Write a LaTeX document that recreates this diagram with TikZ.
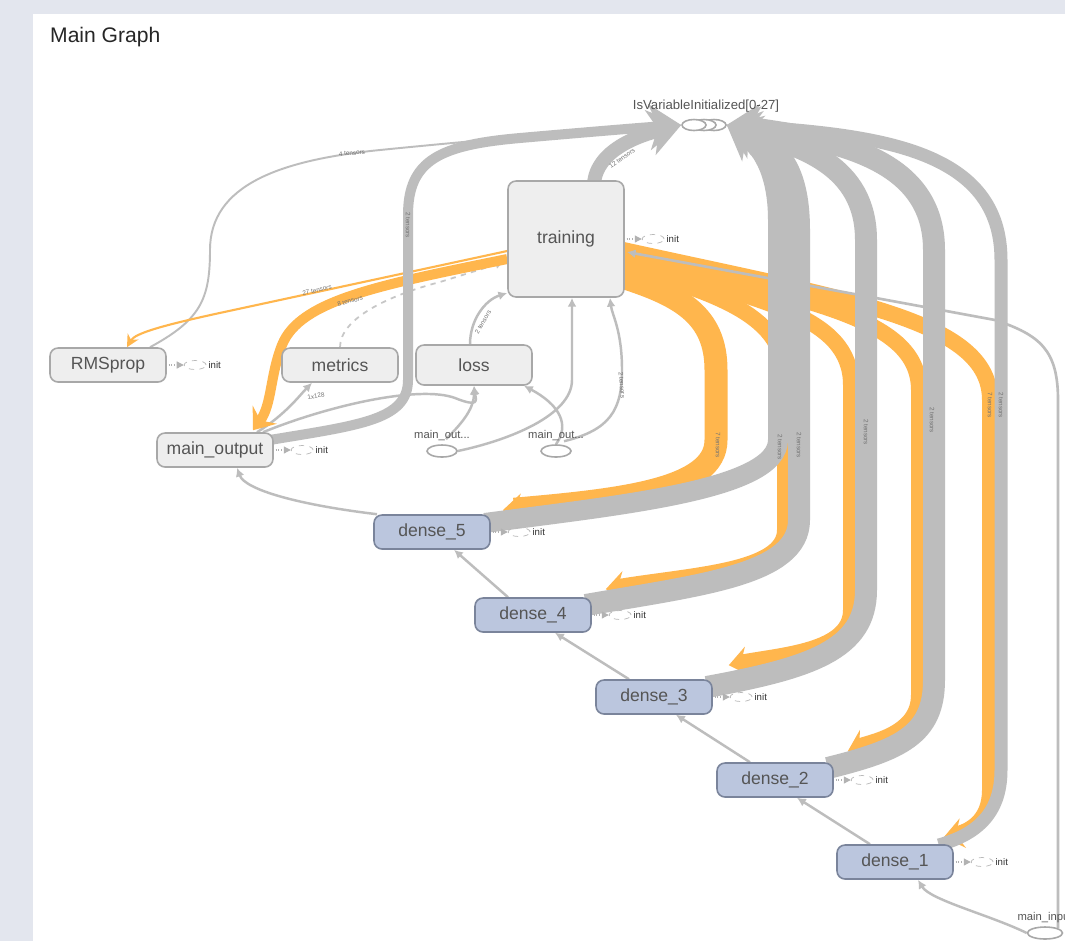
\documentclass[tikz,border=0pt]{standalone}
\usepackage{fontspec}
\setmainfont{Liberation Sans}
\usetikzlibrary{arrows.meta,shapes.geometric,positioning}
\definecolor{pagebg}{RGB}{227,230,238}
\definecolor{beltgray}{RGB}{189,189,189}
\definecolor{beltorange}{RGB}{255,182,77}
\definecolor{opfill}{RGB}{238,238,238}
\definecolor{opline}{RGB}{168,168,168}
\definecolor{densefill}{RGB}{187,198,222}
\definecolor{denseline}{RGB}{122,132,155}
\definecolor{optext}{RGB}{85,85,85}
\pgfdeclarelayer{paper}
\pgfdeclarelayer{edges}
\pgfsetlayers{paper,edges,main}
\tikzset{
  opbox/.style={draw=opline,fill=opfill,line width=0.9pt,rounded corners=0.16cm,
    minimum width=2.32cm,minimum height=0.68cm,text=optext,font=\fontsize{10}{12}\selectfont},
  densebox/.style={opbox,draw=denseline,fill=densefill},
  ioval/.style={ellipse,draw=opline,fill=white,line width=0.9pt,inner sep=0pt},
  initoval/.style={ellipse,draw=gray!55,dashed,line width=0.4pt,minimum width=0.44cm,
    minimum height=0.18cm,inner sep=0pt},
  inittext/.style={font=\fontsize{5.5}{6}\selectfont,text=black!80,inner sep=1pt},
  initlink/.style={draw=gray!60,densely dotted,line width=0.6pt,shorten <=1pt,
    -{Triangle[length=4pt,width=4pt]}},
  graybelt/.style={draw=beltgray,-{Stealth[length=18pt,width=26pt,inset=5pt]}},
  orangebelt/.style={draw=beltorange,-{Stealth[length=11pt,width=17pt,inset=4pt]}},
  thinlink/.style={draw=beltgray,line width=1.4pt,-{Latex[length=5pt,width=5pt]}},
  beltlabel/.style={font=\fontsize{3.6}{4}\selectfont,text=black!55,inner sep=0pt},
  smalltext/.style={font=\fontsize{6.4}{7}\selectfont,text=optext,inner sep=1pt},
}

\begin{document}
\begin{tikzpicture}[x=0.02cm,y=-0.02cm]
\useasboundingbox (0,0) rectangle (1065,941);
\begin{pgfonlayer}{paper}
\fill[pagebg] (0,0) rectangle (1065,941);
\fill[white] (33,14) rectangle (1065,941);
\end{pgfonlayer}
\node[anchor=west,font=\fontsize{12}{14}\selectfont,text=black!85] (title) at (44,37) {Main Graph};

% ops
\node[opbox,minimum height=2.32cm] (train) at (566,239) {training};
\node[opbox] (rms) at (108,365) {RMSprop};
\node[opbox] (metrics) at (340,365) {metrics};
\node[opbox,minimum height=0.8cm] (loss) at (474,365) {loss};
\node[opbox] (mainout) at (215,450) {main\_output};
\foreach \k/\px/\py in {5/432/532,4/533/615,3/654/697,2/775/780,1/895/862}
  \node[densebox] (d\k) at (\px,\py) {dense\_\k};

% init nodes
\foreach \op in {train,rms,mainout,d5,d4,d3,d2,d1}{
  \node[initoval,right=0.34cm of \op] (\op-init) {};
  \node[inittext,right=0pt of \op-init] (\op-inittext) {init};
  \draw[initlink] (\op.east) -- (\op-init.west);
}

% IsVariableInitialized
\node[ioval,minimum width=0.48cm,minimum height=0.22cm] (isvc) at (714,125) {};
\node[ioval,minimum width=0.48cm,minimum height=0.22cm] (isvb) at (704,125) {};
\node[ioval,minimum width=0.48cm,minimum height=0.22cm] (isv) at (694,125) {};
\node[font=\fontsize{7.5}{9}\selectfont,text=optext] (isvtext) at (706,106) {IsVariableInitialized[0-27]};

% placeholders
\node[ioval,minimum width=0.6cm,minimum height=0.24cm] (mo1) at (442,451) {};
\node[smalltext,above=1pt of mo1] (mo1text) {main\_out...};
\node[ioval,minimum width=0.6cm,minimum height=0.24cm] (mo2) at (556,451) {};
\node[smalltext,above=1pt of mo2] (mo2text) {main\_out...};
\node[ioval,minimum width=0.7cm,minimum height=0.24cm] (mi) at (1045,933) {};
\node[smalltext,above=1pt of mi] (mitext) {main\_input};

\begin{pgfonlayer}{edges}
% thin links
\draw[thinlink] ([shift={(-25,0)}]d1.north) -- ([shift={(22,0)}]d2.south);
\draw[thinlink] ([shift={(-25,0)}]d2.north) -- ([shift={(22,0)}]d3.south);
\draw[thinlink] ([shift={(-25,0)}]d3.north) -- ([shift={(22,0)}]d4.south);
\draw[thinlink] ([shift={(-25,0)}]d4.north) -- ([shift={(22,0)}]d5.south);
\draw[thinlink] ([shift={(-55,0)}]d5.north) .. controls (300,505) and (245,490) .. ([shift={(22,0)}]mainout.south);
\draw[thinlink] (mi.west) .. controls (990,915) and (930,900) .. ([shift={(23,0)}]d1.south);
\draw[thinlink] ([shift={(42,0)}]mainout.north) .. controls (285,415) and (300,395) .. ([shift={(-28,0)}]metrics.south);
\draw[thinlink] ([shift={(48,0)}]mainout.north) .. controls (330,405) and (420,385) .. (455,398) .. controls (480,408) and (476,400) .. (loss.south);
\draw[thinlink] ([shift={(4,-5)}]mo1.north) .. controls (460,425) and (474,410) .. (loss.south);
\draw[thinlink] (mo1.east) .. controls (510,440) and (572,415) .. (572,380) -- ([shift={(6,0)}]train.south);
\draw[thinlink] (mo2.north) .. controls (570,425) and (560,405) .. ([shift={(50,0)}]loss.south);
\draw[thinlink] ([shift={(8,-3)}]mo2.north) .. controls (610,430) and (622,410) .. (622,370) .. controls (622,330) and (612,315) .. ([shift={(44,0)}]train.south);
\draw[thinlink] ([shift={(-4,0)}]loss.north) .. controls (470,320) and (485,300) .. ([shift={(0,54)}]train.west);
\draw[thinlink,line width=1pt,dashed,draw=beltgray!85] (metrics.north) .. controls (340,318) and (390,295) .. (440,282) -- ([shift={(-3,23)}]train.west);
\draw[thinlink,line width=1.1pt] ([shift={(42,0)}]rms.north) .. controls (200,320) and (210,300) .. (210,250) .. controls (210,185) and (280,160) .. (380,150) .. controls (500,138) and (620,128) .. (isv.west);
\draw[draw=beltorange,line width=1.2pt,-{Stealth[length=7pt,width=7pt]}] ([shift={(0,12)}]train.west) -- (215,314) .. controls (165,325) and (135,333) .. ([shift={(19,0)}]rms.north);
% orange belts
\draw[orangebelt,line width=0.2cm] ([shift={(0,20)}]train.west) .. controls (380,285) and (300,300) .. (282,345) .. controls (270,375) and (272,405) .. ([shift={(38,-2)}]mainout.north);
\draw[orangebelt,line width=0.46cm] ([shift={(-6,37)}]train.east) .. controls (680,295) and (716,315) .. (716,370) -- (716,440) .. controls (716,490) and (620,500) .. ([shift={(12,-4)}]d5.north east);
\draw[orangebelt,line width=0.32cm] ([shift={(-6,25)}]train.east) .. controls (720,295) and (785,315) .. (785,380) -- (785,530) .. controls (785,572) and (690,575) .. ([shift={(14,-8)}]d4.north east);
\draw[orangebelt,line width=0.32cm] ([shift={(-6,19)}]train.east) .. controls (760,300) and (851,315) .. (851,385) -- (851,610) .. controls (851,652) and (780,655) .. ([shift={(16,-14)}]d3.north east);
\draw[orangebelt,line width=0.32cm] ([shift={(-6,14)}]train.east) .. controls (800,300) and (919,315) .. (919,390) -- (919,695) .. controls (919,735) and (870,742) .. ([shift={(14,-11)}]d2.north east);
\draw[orangebelt,line width=0.32cm] ([shift={(-6,10)}]train.east) .. controls (850,300) and (990,320) .. (990,400) -- (990,790) .. controls (990,822) and (968,832) .. ([shift={(-10,-7)}]d1.north east);
% gray belts
\draw[graybelt,line width=0.28cm] ([shift={(28,4)}]train.north) .. controls (596,150) and (640,135) .. (isv.west);
\draw[graybelt,line width=0.2cm] ([shift={(-4,-10)}]mainout.east) .. controls (360,425) and (408,420) .. (408,380) -- (408,215) .. controls (408,160) and (440,145) .. (520,138) .. controls (600,131) and (650,127) .. (isv.west);
\draw[graybelt,line width=0.4cm] ([shift={(-6,-9)}]d5.east) .. controls (620,505) and (778,490) .. (778,440) -- (778,220) .. controls (778,170) and (760,145) .. (isvc.east);
\draw[graybelt,line width=0.44cm] ([shift={(-6,-10)}]d4.east) .. controls (700,585) and (799,575) .. (799,520) -- (799,230) .. controls (799,165) and (775,145) .. (isvc.east);
\draw[graybelt,line width=0.44cm] ([shift={(-6,-10)}]d3.east) .. controls (810,668) and (866,650) .. (866,590) -- (866,240) .. controls (866,165) and (800,145) .. (isvc.east);
\draw[graybelt,line width=0.44cm] ([shift={(-6,-12)}]d2.east) .. controls (900,750) and (934,735) .. (934,680) -- (934,250) .. controls (934,160) and (840,140) .. (isvc.east);
\draw[graybelt,line width=0.26cm] ([shift={(-15,-17)}]d1.east) .. controls (975,835) and (1001,815) .. (1001,770) -- (1001,260) .. controls (1001,150) and (880,135) .. (isvc.east);
\draw[thinlink,line width=1.5pt] (mi.north east) .. controls (1058,915) and (1058,900) .. (1058,880) -- (1058,400) .. controls (1058,350) and (1040,335) .. (995,320) -- ([shift={(2,13)}]train.east);
\end{pgfonlayer}

% belt labels
\node[beltlabel,rotate=35] (l12) at (622,158) {12 tensors};
\node[beltlabel,rotate=-90] (lmo) at (408,225) {2 tensors};
\node[beltlabel,rotate=4] (l4) at (352,153) {4 tensors};
\node[beltlabel,rotate=12] (l27) at (317,290) {27 tensors};
\node[beltlabel,rotate=15] (l8) at (350,301) {8 tensors};
\node[beltlabel,rotate=60] (lloss) at (483,322) {2 tensors};
\node[beltlabel,rotate=10] (l128) at (316,396) {1x128};
\node[beltlabel,rotate=-85] (lmo2) at (622,385) {2 tensors};
\node[beltlabel,rotate=-90] (lo5) at (718,445) {7 tensors};
\node[beltlabel,rotate=-90] (lg5) at (780,447) {2 tensors};
\node[beltlabel,rotate=-90] (lg4) at (799,445) {2 tensors};
\node[beltlabel,rotate=-90] (lg3) at (866,432) {2 tensors};
\node[beltlabel,rotate=-90] (lg2) at (932,420) {2 tensors};
\node[beltlabel,rotate=-90] (lo1) at (990,405) {7 tensors};
\node[beltlabel,rotate=-90] (lg1) at (1001,405) {2 tensors};
\end{tikzpicture}
\end{document}
